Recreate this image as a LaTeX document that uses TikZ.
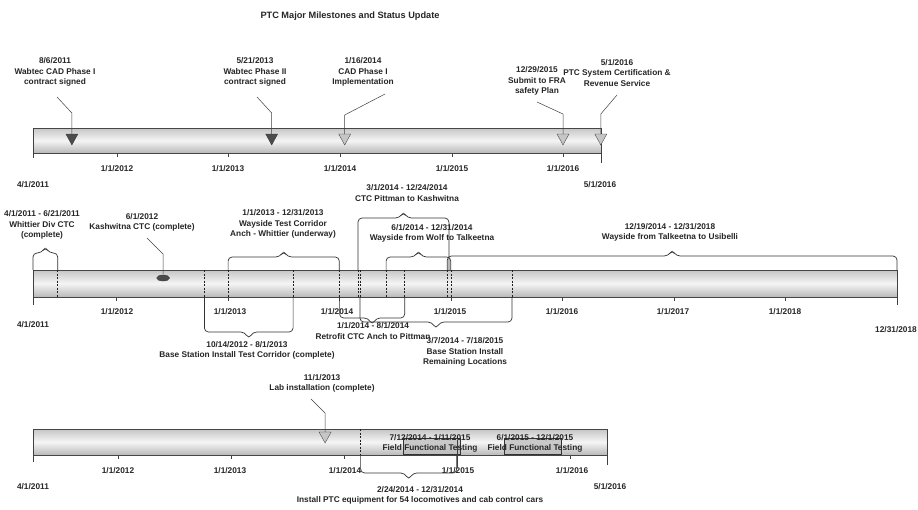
\documentclass[tikz,border=0pt]{standalone}
\usepackage{fontspec}
\setmainfont{Liberation Sans}
\begin{document}
\begin{tikzpicture}[x=1pt,y=-1pt,
  lbl/.style={font=\bfseries\fontsize{8.3}{10.2}\selectfont, align=center, text=black!85, inner sep=0pt},
  ttl/.style={font=\bfseries\fontsize{9.2}{11}\selectfont, text=black!85, inner sep=0pt},
  bar/.style={draw=gray!55!black, line width=0.6pt, top color=gray!45, bottom color=gray!55, middle color=gray!8},
  dl/.style={draw=gray!25!black, dash pattern=on 2pt off 1.5pt, line width=0.5pt},
  br/.style={draw=black!80, line width=0.7pt, rounded corners=4pt},
  co/.style={draw=black!75, line width=0.5pt},
  tk/.style={draw=black!75, line width=0.6pt},
  msd/.style={fill=gray!60!black, draw=gray!40!black, line width=0.3pt},
  msl/.style={fill=gray!45, draw=gray!40!black, line width=0.3pt},
  fbox/.style={fill=gray!50, fill opacity=0.8, draw=gray!40!black, line width=0.4pt}
]
\useasboundingbox (0,0) rectangle (918,509);
\fill[white] (0,0) rectangle (918,509);

\newcommand\ubr[4]{\pgfmathsetmacro\bm{(#1+#2)/2}%
  \draw[br] (#1,#4) -- (#1,#3) -- (\bm-4,#3) -- (\bm,#3-6) -- (\bm+4,#3) -- (#2,#3) -- (#2,#4);}
\newcommand\dbr[4]{\pgfmathsetmacro\bm{(#1+#2)/2}%
  \draw[br] (#1,#4) -- (#1,#3) -- (\bm-4,#3) -- (\bm,#3+7) -- (\bm+4,#3) -- (#2,#3) -- (#2,#4);}
\newcommand\tri[3]{\draw[#3] (#1-6,#2) -- (#1+6,#2) -- (#1,#2+11) -- cycle;}

% title
\node[ttl] (title) at (350,16) {PTC Major Milestones and Status Update};

% ================= TOP TIMELINE =================
\draw[bar] (33,128) rectangle (601,153);
\draw[tk] (33,128) -- (33,158);
\draw[tk] (601,128) -- (601,163);
\foreach \x in {116.8,228.5,340.2,451.9,563.6} \draw[tk] (\x,154) -- (\x,157);
\node[lbl] (ta) at (117,169) {1/1/2012};
\node[lbl] (tb) at (228,169) {1/1/2013};
\node[lbl] (tc) at (340,169) {1/1/2014};
\node[lbl] (td) at (452,169) {1/1/2015};
\node[lbl] (te) at (563,169) {1/1/2016};
\node[lbl] (tf) at (33,185) {4/1/2011};
\node[lbl] (tg) at (600,185) {5/1/2016};

\tri{71.9}{134}{msd}
\tri{271.7}{134}{msd}
\tri{344.7}{134}{msl}
\tri{563}{134}{msl}
\tri{600.8}{134}{msl}

\node[lbl] (m1) at (55,72) {8/6/2011\\Wabtec CAD Phase I\\contract signed};
\node[lbl] (m2) at (255,72) {5/21/2013\\Wabtec Phase II\\contract signed};
\node[lbl] (m3) at (363,72) {1/16/2014\\CAD Phase I\\Implementation};
\node[lbl] (m4) at (537,81) {12/29/2015\\Submit to FRA\\safety Plan};
\node[lbl] (m5) at (617,73) {5/1/2016\\PTC System Certification \&\\Revenue Service};
\coordinate (c1) at (57,97);  \coordinate (d1) at (71.9,134);
\coordinate (c2) at (257,97); \coordinate (d2) at (271.7,134);
\coordinate (c3) at (385,94); \coordinate (d3) at (344.7,134);
\coordinate (c4) at (537,102); \coordinate (d4) at (563,134);
\coordinate (c5) at (617,95); \coordinate (d5) at (600.8,134);
\draw[co] (c1) -- (71.9,113) -- (d1);
\draw[co] (c2) -- (271.7,113) -- (d2);
\draw[co] (c3) -- (344.7,115) -- (d3);
\draw[co] (c4) -- (563,114) -- (d4);
\draw[co] (c5) -- (600.8,114) -- (d5);

% ================= MIDDLE TIMELINE =================
\draw[bar] (33,270) rectangle (897,297);
\foreach \x in {57.7,204.4,228.1,293.1,339.3,358,359.9,386.1,404.7,447.3,450.8,512}
  \draw[dl] (\x,270) -- (\x,297);
\draw[tk] (33,270) -- (33,305);
\draw[tk] (897,270) -- (897,305);
\foreach \x in {116.6,228.1,339.6,451.1,562.6,674.1,785.6} \draw[tk] (\x,298) -- (\x,301);
\node[lbl] (ua) at (117,312) {1/1/2012};
\node[lbl] (ub) at (230,312) {1/1/2013};
\node[lbl] (uc) at (337,312) {1/1/2014};
\node[lbl] (ud) at (450,312) {1/1/2015};
\node[lbl] (ue) at (562,312) {1/1/2016};
\node[lbl] (uf) at (673,312) {1/1/2017};
\node[lbl] (ug) at (785,312) {1/1/2018};
\node[lbl] (uh) at (33,325) {4/1/2011};
\node[lbl] (ui) at (896,330) {12/31/2018};

% braces above
\ubr{33}{57.7}{253}{270}
\ubr{228.1}{339.3}{257}{270}
\ubr{358}{448.9}{218}{270}
\ubr{386.1}{450.8}{257}{270}
\ubr{447.3}{897}{256}{270}
% braces below
\dbr{204.4}{293.1}{332}{297}
\dbr{339.6}{404.7}{318}{297}
\dbr{359.9}{512}{322}{297}

\node[lbl] (n1) at (42,225) {4/1/2011 - 6/21/2011\\Whittier Div CTC\\(complete)};
\node[lbl] (n2) at (142,222) {6/1/2012\\Kashwitna CTC (complete)};
\node[lbl] (n3) at (283,224) {1/1/2013 - 12/31/2013\\Wayside Test Corridor\\Anch - Whittier (underway)};
\node[lbl] (n4) at (407,193) {3/1/2014 - 12/24/2014\\CTC Pittman to Kashwitna};
\node[lbl] (n5) at (432,233) {6/1/2014 - 12/31/2014\\Wayside from Wolf to Talkeetna};
\node[lbl] (n6) at (670,232) {12/19/2014 - 12/31/2018\\Wayside from Talkeetna to Usibelli};
\node[lbl] (n7) at (247,350) {10/14/2012 - 8/1/2013\\Base Station Install Test Corridor (complete)};
\node[lbl] (n8) at (373,331) {1/1/2014 - 8/1/2014\\Retrofit CTC Anch to Pittman};
\node[lbl] (n9) at (465,352) {3/7/2014 - 7/18/2015\\Base Station Install\\Remaining Locations};

\coordinate (c6) at (147,238); \coordinate (d6) at (163.1,274);
\draw[co] (c6) -- (163.1,254) -- (d6);
\draw[msd] (163.1,278) ellipse (6.5 and 3);

% ================= BOTTOM TIMELINE =================
\draw[bar] (33,429) rectangle (607,455);
\draw[fbox] (403.5,438) rectangle (460.1,454);
\draw[fbox] (503.9,438) rectangle (560.7,454);
\draw[dl] (360.6,429) -- (360.6,455);
\draw[tk] (33,429) -- (33,462);
\draw[tk] (607,429) -- (607,465);
\foreach \x in {117.8,230.8,343.8,569.8} \draw[tk] (\x,456) -- (\x,459);
\draw[co] (456.8,440) -- (456.8,467);
\node[lbl] (va) at (118,471) {1/1/2012};
\node[lbl] (vb) at (230,471) {1/1/2013};
\node[lbl] (vc) at (345,471) {1/1/2014};
\node[lbl] (vd) at (458,471) {1/1/2015};
\node[lbl] (ve) at (572,471) {1/1/2016};
\node[lbl] (vf) at (33,487) {4/1/2011};
\node[lbl] (vg) at (610,487) {5/1/2016};

\tri{325.1}{432}{msl}
\node[lbl] (p1) at (322,383) {11/1/2013\\Lab installation (complete)};
\coordinate (c7) at (311,399); \coordinate (d7) at (325.1,432);
\draw[co] (c7) -- (325.1,413) -- (d7);

\dbr{360.6}{456.8}{473}{455}
\node[lbl] (p2) at (420,495) {2/24/2014 - 12/31/2014\\Install PTC equipment for 54 locomotives and cab control cars};

\node[lbl] (p3) at (430,443) {7/12/2014 - 1/11/2015\\Field Functional Testing};
\node[lbl] (p4) at (535,443) {6/1/2015 - 12/1/2015\\Field Functional Testing};
\end{tikzpicture}
\end{document}
